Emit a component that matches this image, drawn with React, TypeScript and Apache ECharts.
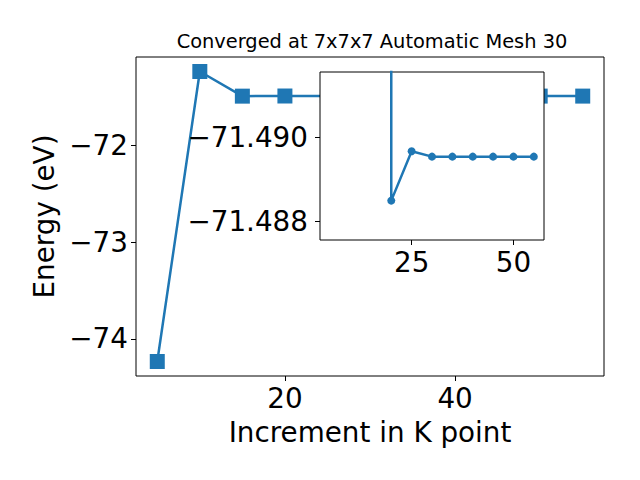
import React, { useEffect, useRef } from 'react';
import * as echarts from 'echarts';

const kPoints = [5, 10, 15, 20, 25, 30, 35, 40, 45, 50, 55];
const energies = [-74.235, -71.235, -71.49, -71.4885, -71.4897, -71.4895, -71.4895, -71.4895, -71.4895, -71.4895, -71.4895];

const insetK = [20, 20, 25, 30, 35, 40, 45, 50, 55];
const insetE = [-71.5, -71.48849, -71.48967, -71.48954, -71.48954, -71.48954, -71.48954, -71.48954, -71.48954];

const mainXTicks = [20, 40];
const mainYTicks = [-74, -73, -72];
const insetXTicks = [25, 50];
const insetYTicks = [-71.49, -71.488];

const titleText = 'Converged at 7x7x7 Automatic Mesh 30';
const xName = 'Increment in K point';
const yName = 'Energy (eV)';

const FONT = 'DejaVu Sans';
const BLUE = '#1f77b4';

const fmt = (v: number, d: number) => (v < 0 ? '\u2212' : '') + Math.abs(v).toFixed(d);

export default function App() {
  const ref = useRef<HTMLDivElement>(null);
  useEffect(() => {
    if (!ref.current) return;
    const chart = echarts.init(ref.current, undefined, { renderer: 'svg' });
    const tickStyle = { show: true, inside: false, length: 5, lineStyle: { color: '#000', width: 1 } };
    const labelBase = { color: '#000', fontFamily: FONT, fontSize: 27.8 };
    chart.setOption({
      animation: false,
      backgroundColor: '#fff',
      title: {
        text: titleText,
        left: 367,
        top: 27,
        textAlign: 'center',
        textStyle: { fontFamily: FONT, fontSize: 19.4, fontWeight: 'normal', color: '#000' },
      },
      grid: [
        { left: 136, right: 36, top: 57, bottom: 104, show: true, borderColor: '#000', borderWidth: 1, backgroundColor: 'transparent', containLabel: false },
        { left: 320, top: 72, width: 224, height: 168, show: true, borderColor: '#000', borderWidth: 1, backgroundColor: '#fff', z: 10, containLabel: false },
      ],
      xAxis: [
        {
          type: 'value', gridIndex: 0, min: 2.5, max: 57.5,
          axisLine: { show: false }, splitLine: { show: false },
          axisTick: { ...tickStyle, customValues: mainXTicks },
          axisLabel: { ...labelBase, margin: 8, customValues: mainXTicks, formatter: (v: number) => fmt(v, 0) },
          name: xName, nameLocation: 'middle', nameGap: 42,
          nameTextStyle: { ...labelBase },
        },
        {
          type: 'value', gridIndex: 1, min: 2.5, max: 57.5, z: 11,
          axisLine: { show: false }, splitLine: { show: false },
          axisTick: { ...tickStyle, customValues: insetXTicks },
          axisLabel: { ...labelBase, margin: 8, customValues: insetXTicks, formatter: (v: number) => fmt(v, 0) },
        },
      ],
      yAxis: [
        {
          type: 'value', gridIndex: 0, min: -74.385, max: -71.085,
          axisLine: { show: false }, splitLine: { show: false },
          axisTick: { ...tickStyle, customValues: mainYTicks },
          axisLabel: { ...labelBase, margin: 8, customValues: mainYTicks, formatter: (v: number) => fmt(v, 0) },
          name: yName, nameLocation: 'middle', nameGap: 78,
          nameTextStyle: { ...labelBase },
        },
        {
          type: 'value', gridIndex: 1, min: -71.49156, max: -71.48755, inverse: true, z: 11,
          axisLine: { show: false }, splitLine: { show: false },
          axisTick: { ...tickStyle, customValues: insetYTicks },
          axisLabel: { ...labelBase, margin: 12, customValues: insetYTicks, formatter: (v: number) => fmt(v, 3) },
        },
      ],
      series: [
        {
          type: 'line', xAxisIndex: 0, yAxisIndex: 0, z: 2,
          data: kPoints.map((k, i) => [k, energies[i]]),
          symbol: 'rect', symbolSize: 15,
          lineStyle: { color: BLUE, width: 2.5 },
          itemStyle: { color: BLUE },
        },
        {
          type: 'line', xAxisIndex: 1, yAxisIndex: 1, z: 12, clip: true,
          data: insetK.map((k, i) => [k, insetE[i]]),
          symbol: 'circle', symbolSize: 8,
          lineStyle: { color: BLUE, width: 2.5 },
          itemStyle: { color: BLUE },
        },
      ],
    });
    return () => chart.dispose();
  }, []);
  return <div ref={ref} style={{ position: 'fixed', left: 0, top: 0, width: 640, height: 480 }} />;
}
